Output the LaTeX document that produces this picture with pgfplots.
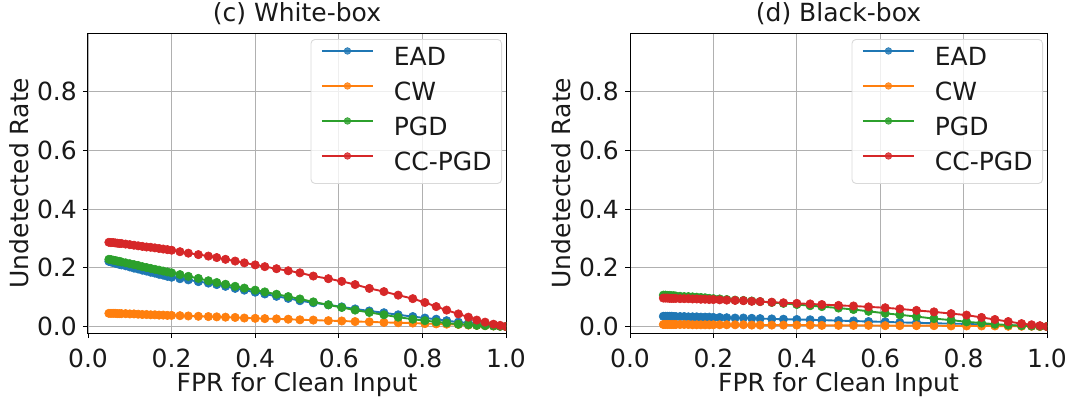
\documentclass[border=0pt]{standalone}
\usepackage{fontspec}
\setmainfont{DejaVu Sans}
\usepackage{pgfplots}
\usepackage{pgfplotstable}
\pgfplotsset{compat=1.18}
\definecolor{tabblue}{HTML}{1F77B4}
\definecolor{taborange}{HTML}{FF7F0E}
\definecolor{tabgreen}{HTML}{2CA02C}
\definecolor{tabred}{HTML}{D62728}
\definecolor{gridgray}{HTML}{B0B0B0}

\pgfplotstableread{
x     ead   cw    pgd   ccpgd
0.050 0.222 0.045 0.229 0.287
0.055 0.220 0.045 0.228 0.286
0.060 0.218 0.045 0.226 0.286
0.065 0.216 0.045 0.225 0.285
0.070 0.214 0.044 0.223 0.284
0.075 0.212 0.044 0.222 0.283
0.080 0.210 0.044 0.220 0.283
0.090 0.207 0.044 0.217 0.281
0.100 0.203 0.043 0.214 0.279
0.110 0.199 0.043 0.211 0.277
0.120 0.196 0.042 0.208 0.275
0.130 0.192 0.041 0.204 0.273
0.140 0.189 0.041 0.201 0.271
0.150 0.185 0.040 0.198 0.270
0.160 0.182 0.040 0.195 0.268
0.170 0.178 0.039 0.192 0.266
0.180 0.175 0.039 0.189 0.264
0.190 0.171 0.038 0.186 0.262
0.200 0.168 0.038 0.183 0.260
0.220 0.163 0.037 0.177 0.255
0.240 0.159 0.036 0.171 0.250
0.264 0.153 0.035 0.164 0.245
0.288 0.148 0.034 0.156 0.240
0.308 0.143 0.033 0.150 0.235
0.329 0.137 0.032 0.144 0.229
0.352 0.130 0.031 0.137 0.223
0.374 0.124 0.029 0.131 0.217
0.400 0.117 0.028 0.124 0.210
0.423 0.111 0.027 0.118 0.204
0.451 0.103 0.026 0.110 0.197
0.479 0.096 0.025 0.102 0.190
0.507 0.088 0.023 0.094 0.183
0.539 0.081 0.022 0.084 0.172
0.575 0.074 0.020 0.074 0.163
0.607 0.067 0.019 0.065 0.154
0.639 0.060 0.017 0.056 0.143
0.673 0.053 0.016 0.048 0.130
0.708 0.047 0.014 0.040 0.119
0.742 0.040 0.013 0.032 0.107
0.777 0.034 0.012 0.025 0.095
0.806 0.029 0.010 0.020 0.082
0.833 0.025 0.009 0.016 0.068
0.858 0.020 0.008 0.012 0.056
0.886 0.015 0.007 0.008 0.043
0.910 0.012 0.005 0.006 0.032
0.930 0.009 0.004 0.004 0.022
0.950 0.006 0.003 0.003 0.015
0.970 0.003 0.002 0.002 0.008
0.986 0.001 0.001 0.001 0.004
1.000 0.000 0.000 0.000 0.000
}\white

\pgfplotstableread{
x     ead   cw    pgd   ccpgd
0.080 0.035 0.007 0.107 0.097
0.085 0.035 0.007 0.107 0.097
0.090 0.035 0.007 0.106 0.097
0.095 0.035 0.007 0.106 0.096
0.100 0.035 0.007 0.105 0.096
0.105 0.034 0.007 0.105 0.096
0.110 0.034 0.007 0.104 0.096
0.120 0.034 0.007 0.103 0.095
0.130 0.034 0.007 0.102 0.095
0.140 0.033 0.007 0.102 0.095
0.150 0.033 0.006 0.101 0.094
0.160 0.033 0.006 0.100 0.094
0.170 0.032 0.006 0.099 0.093
0.180 0.032 0.006 0.098 0.093
0.190 0.032 0.006 0.096 0.092
0.200 0.031 0.006 0.095 0.092
0.215 0.031 0.006 0.094 0.091
0.232 0.030 0.006 0.092 0.090
0.252 0.029 0.006 0.090 0.089
0.272 0.029 0.006 0.089 0.088
0.292 0.028 0.005 0.087 0.086
0.312 0.027 0.005 0.085 0.085
0.340 0.026 0.005 0.082 0.083
0.368 0.025 0.005 0.079 0.081
0.400 0.024 0.005 0.075 0.079
0.432 0.023 0.005 0.071 0.077
0.460 0.022 0.004 0.068 0.075
0.500 0.020 0.004 0.063 0.072
0.536 0.019 0.004 0.058 0.070
0.572 0.017 0.004 0.052 0.067
0.612 0.016 0.003 0.045 0.064
0.647 0.014 0.003 0.040 0.060
0.687 0.013 0.003 0.034 0.055
0.729 0.011 0.003 0.027 0.050
0.770 0.010 0.002 0.022 0.044
0.807 0.009 0.002 0.016 0.039
0.843 0.007 0.002 0.012 0.031
0.875 0.006 0.002 0.008 0.024
0.907 0.004 0.001 0.005 0.017
0.939 0.003 0.001 0.003 0.010
0.963 0.002 0.001 0.002 0.006
0.983 0.001 0.000 0.001 0.003
1.000 0.000 0.000 0.000 0.000
}\black

\pgfplotsset{
  ser/.style={color=#1, line width=1.9pt, mark=*, mark size=4.2pt, mark options={fill=#1, draw=#1, line width=0.6pt}},
  rateaxis/.style={
    scale only axis,
    width=418pt, height=300pt,
    xmin=0, xmax=1, ymin=-0.022, ymax=1.0,
    xtick={0,0.2,0.4,0.6,0.8,1},
    ytick={0,0.2,0.4,0.6,0.8},
    xtick pos=bottom, ytick pos=left,
    tick align=outside,
    major tick length=5pt,
    tick style={black, line width=0.9pt},
    axis line style={black, line width=1pt},
    grid=major,
    major grid style={gridgray, line width=0.9pt},
    /pgf/number format/assume math mode=true,
    /pgf/number format/fixed, /pgf/number format/fixed zerofill,
    /pgf/number format/precision=1,
    every tick label/.append style={font=\fontsize{25}{30}\selectfont, text=black!90},
    xticklabel style={anchor=base, inner sep=0pt, yshift=-29pt},
    yticklabel style={anchor=east, inner sep=0pt, xshift=-6pt},
    xlabel style={at={(axis description cs:0.5,-0.195)}, anchor=base, font=\fontsize{25}{30}\selectfont, text=black!90},
    ylabel style={at={(axis description cs:-0.1435,0.5)}, anchor=base, rotate=0, font=\fontsize{25}{30}\selectfont, text=black!90},
    title style={at={(axis description cs:0.5,1.02)}, anchor=base, font=\fontsize{25}{30}\selectfont, text=black!90},
    xlabel={FPR for Clean Input},
    ylabel={Undetected Rate},
    clip marker paths=true,
    legend image code/.code={
      \draw[mark repeat=2, mark phase=2, #1, mark size=3.3pt] plot coordinates {(0pt,8pt) (25.5pt,8pt) (51pt,8pt)};
      \path (0pt,0pt) (71pt,0pt);
    },
    legend cell align=left,
    legend style={at={(axis description cs:1,1)}, anchor=north east, xshift=-4pt, yshift=-6pt,
      draw=black!15, line width=0.9pt, rounded corners=4pt, fill=white, fill opacity=0.8, text opacity=1,
      font=\fontsize{25}{30}\selectfont, text=black!90,
      inner xsep=10pt, inner ysep=8pt,
      row sep=12pt,
      nodes={inner sep=0pt, text height=18pt, text depth=5pt}},
  }
}

\begin{document}
\begin{tikzpicture}
\useasboundingbox (0,0) rectangle (1072pt,400pt);
\begin{axis}[rateaxis, at={(88pt,67pt)}, anchor=south west, title={(c) White-box}]
  \addplot[ser=tabblue] table[x=x, y=ead] {\white};
  \addlegendentry{EAD}
  \addplot[ser=taborange] table[x=x, y=cw] {\white};
  \addlegendentry{CW}
  \addplot[ser=tabgreen] table[x=x, y=pgd] {\white};
  \addlegendentry{PGD}
  \addplot[ser=tabred] table[x=x, y=ccpgd] {\white};
  \addlegendentry{CC-PGD}
\end{axis}
\begin{axis}[rateaxis, at={(630pt,67pt)}, anchor=south west, width=417pt, title={(d) Black-box}]
  \addplot[ser=tabblue] table[x=x, y=ead] {\black};
  \addlegendentry{EAD}
  \addplot[ser=taborange] table[x=x, y=cw] {\black};
  \addlegendentry{CW}
  \addplot[ser=tabgreen] table[x=x, y=pgd] {\black};
  \addlegendentry{PGD}
  \addplot[ser=tabred] table[x=x, y=ccpgd] {\black};
  \addlegendentry{CC-PGD}
\end{axis}
\end{tikzpicture}
\end{document}
